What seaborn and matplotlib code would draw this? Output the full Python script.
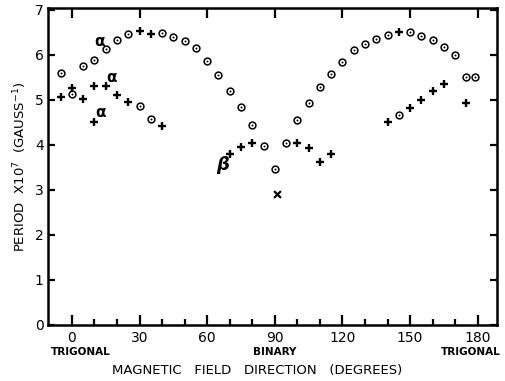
import numpy as np
import pandas as pd
import matplotlib
matplotlib.use("Agg")
import matplotlib.pyplot as plt
import seaborn as sns

# circle (dotted) points
circ_x = [-5, 0, 5, 10, 15, 20, 25, 30, 35, 40, 45, 50, 55, 60, 65, 70, 75, 80, 85, 90,
          95, 100, 105, 110, 115, 120, 125, 130, 135, 140, 145, 150, 155, 160, 165, 170, 175, 179]
circ_y = [5.59, 5.14, 5.75, 5.89, 6.14, 6.32, 6.47, 4.87, 4.58, 6.49, 6.39, 6.30, 6.15, 5.86,
          5.55, 5.20, 4.85, 4.44, 3.97, 3.46, 4.04, 4.55, 4.93, 5.28, 5.57, 5.84, 6.10, 6.24,
          6.36, 6.45, 4.66, 6.50, 6.41, 6.32, 6.18, 5.99, 5.50, 5.50]

# plus points
plus_x = [-5, 0, 5, 10, 10, 15, 20, 25, 30, 35, 40, 70, 75, 80, 100, 105, 110, 115,
          140, 145, 150, 155, 160, 165, 175]
plus_y = [5.06, 5.26, 5.01, 5.31, 4.50, 5.31, 5.10, 4.96, 6.54, 6.46, 4.41, 3.79, 3.96, 4.05,
          4.05, 3.92, 3.61, 3.79, 4.50, 6.51, 4.81, 5.00, 5.20, 5.35, 4.93]

# single cross
cross_x = [91]
cross_y = [2.91]

sns.set_style("ticks")
plt.rcParams['font.family'] = ['DejaVu Sans']
plt.rcParams.update({"text.color": "black", "axes.labelcolor": "black",
                     "xtick.color": "black", "ytick.color": "black",
                     "axes.edgecolor": "black"})

circ = pd.DataFrame({"deg": circ_x, "period": circ_y})
plus = pd.DataFrame({"deg": plus_x, "period": plus_y})
cross = pd.DataFrame({"deg": cross_x, "period": cross_y})

fig = plt.figure(figsize=(5.05, 3.81), dpi=100)
ax = fig.add_axes([0.095, 0.147, 0.889, 0.832])

sns.scatterplot(data=circ, x="deg", y="period", marker="o", s=24, facecolor="white",
                edgecolor="black", linewidth=1.1, ax=ax, zorder=3)
sns.scatterplot(data=circ, x="deg", y="period", marker="o", s=2, color="black",
                linewidth=0, ax=ax, zorder=4)
sns.scatterplot(data=plus, x="deg", y="period", marker="+", s=38, color="black",
                linewidth=1.7, ax=ax, zorder=3)
sns.scatterplot(data=cross, x="deg", y="period", marker="x", s=24, color="black",
                linewidth=1.6, ax=ax, zorder=3)

ax.set_xlim(-10.6, 188.5)
ax.set_ylim(0, 7.04)
ax.set_xticks(range(0, 181, 30))
ax.set_xticks(range(0, 181, 10), minor=True)
ax.set_yticks(range(0, 8))
ax.set_xticklabels([str(v) for v in range(0, 181, 30)])
ax.tick_params(axis="both", which="major", direction="in", length=7, width=1.6,
               labelsize=10, top=True, right=True, pad=4)
ax.tick_params(axis="x", which="minor", direction="in", length=4, width=1.6, top=False)
ax.tick_params(axis="y", which="major", length=5, pad=3)
for lab in ax.get_xticklabels() + ax.get_yticklabels():
    lab.set_fontweight("medium")
for sp in ax.spines.values():
    sp.set_linewidth(1.8)
ax.set_xlabel("")
ax.set_ylabel("PERIOD  X10$^7$  (GAUSS$^{-1}$)", fontsize=9.5, labelpad=4)

# direction labels under axis
tr = ax.get_xaxis_transform()
ax.text(4, -0.085, "TRIGONAL", transform=tr, ha="center", va="center", fontsize=7.5,
        fontweight="bold")
ax.text(90, -0.085, "BINARY", transform=tr, ha="center", va="center", fontsize=7.5,
        fontweight="bold")
ax.text(177, -0.085, "TRIGONAL", transform=tr, ha="center", va="center", fontsize=7.5,
        fontweight="bold")
ax.text(82, -0.143, "MAGNETIC   FIELD   DIRECTION   (DEGREES)", transform=tr,
        ha="center", va="center", fontsize=9.5)

# branch labels
ax.text(12.4, 6.3, "α", fontsize=11, fontweight="bold", ha="center", va="center")
ax.text(17.7, 5.5, "α", fontsize=11, fontweight="bold", ha="center", va="center")
ax.text(12.7, 4.71, "α", fontsize=11, fontweight="bold", ha="center", va="center")
ax.text(66.9, 3.56, "β", fontsize=13, fontweight="bold", fontstyle="italic",
        ha="center", va="center")

fig.savefig("out.png", dpi=100)
